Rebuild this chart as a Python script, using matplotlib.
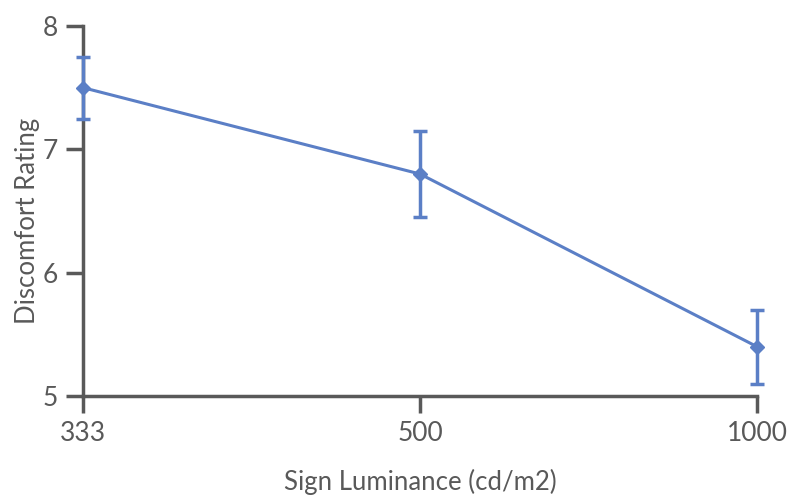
import numpy as np
import matplotlib.pyplot as plt

# data
luminance = ['333', '500', '1000']
rating = [7.50, 6.80, 5.40]
rating_err = [0.25, 0.35, 0.30]

plt.rcParams['font.family'] = ['Lato', 'DejaVu Sans']

grey = '#595959'
blue = '#5b7fc6'

fig = plt.figure(figsize=(7.89, 4.95), dpi=100)
ax = fig.add_axes([83 / 789, 1 - 396 / 495, (757 - 83) / 789, (396 - 26) / 495])

x = np.arange(len(luminance))
ax.errorbar(x, rating, yerr=rating_err, color=blue, lw=2.2, marker='D', ms=7,
            elinewidth=2.5, capsize=5, capthick=2.5, clip_on=False, zorder=3)

ax.set_xlim(x[0], x[-1])
ax.set_ylim(5, 8)
ax.set_xticks(x)
ax.set_xticklabels(luminance)
ax.set_yticks([5, 6, 7, 8])

for side in ['top', 'right']:
    ax.spines[side].set_visible(False)
for side in ['left', 'bottom']:
    ax.spines[side].set_color(grey)
    ax.spines[side].set_linewidth(2.5)
ax.tick_params(colors=grey, labelcolor=grey, labelsize=19, width=2.5, length=12,
               direction='out')
ax.tick_params(axis='x', pad=6)
ax.tick_params(axis='y', pad=6)

ax.set_xlabel('Sign Luminance (cd/m2)', fontsize=18.5, color=grey)
ax.set_ylabel('Discomfort Rating', fontsize=18.5, color=grey)
ax.xaxis.set_label_coords(0.5, -0.196)
ax.yaxis.set_label_coords(-0.064, 0.473)

fig.savefig('out.png', dpi=100)
